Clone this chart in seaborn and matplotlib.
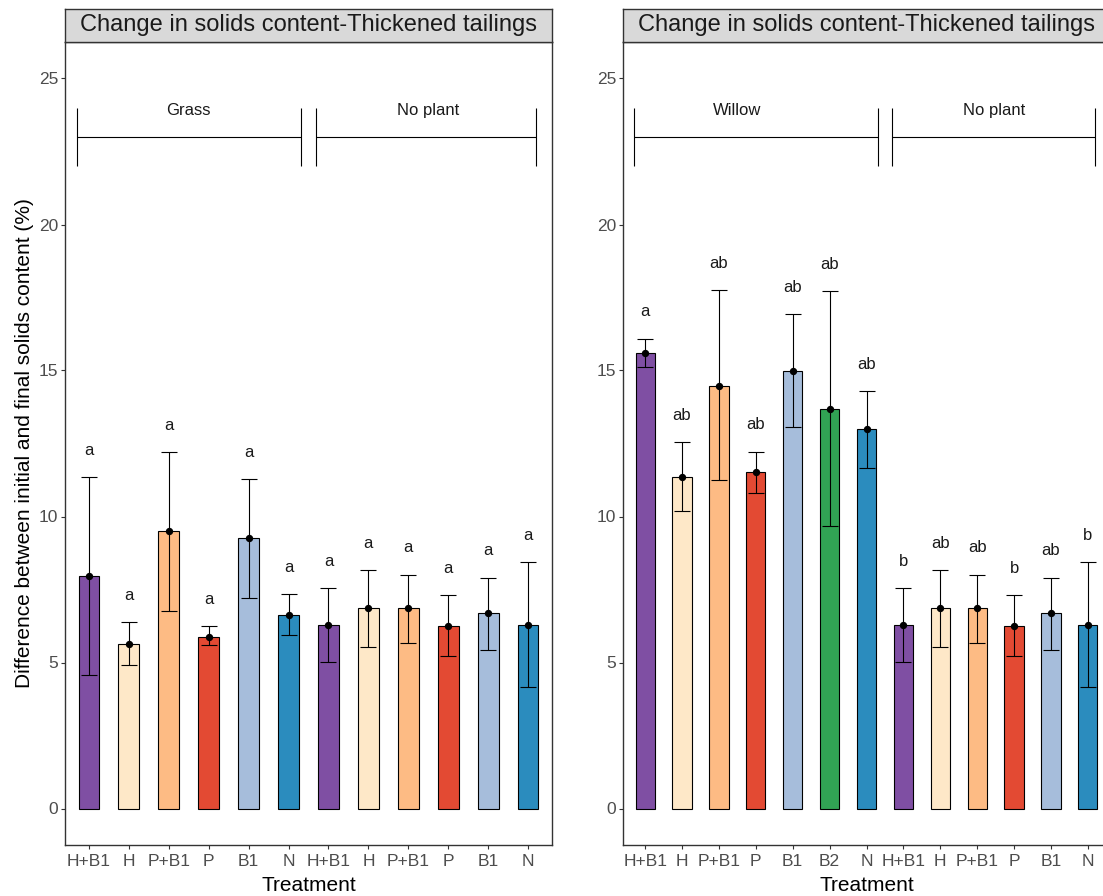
import matplotlib
matplotlib.use("Agg")
import matplotlib.pyplot as plt
import seaborn as sns
import pandas as pd
import numpy as np

# ---------------- data ----------------
strip_title = "Change in solids content-Thickened tailings"

left_labels = ["H+B1", "H", "P+B1", "P", "B1", "N", "H+B1", "H", "P+B1", "P", "B1", "N"]
left_means = [7.96, 5.62, 9.49, 5.89, 9.25, 6.62, 6.29, 6.86, 6.86, 6.25, 6.70, 6.29]
left_upper = [11.34, 6.38, 12.21, 6.26, 11.27, 7.34, 7.56, 8.16, 8.01, 7.32, 7.91, 8.43]
left_lower = [4.58, 4.90, 6.76, 5.59, 7.20, 5.93, 5.03, 5.54, 5.66, 5.22, 5.43, 4.16]
left_letters = ["a"] * 12
left_groups = ["Grass", "No plant"]

right_labels = ["H+B1", "H", "P+B1", "P", "B1", "B2", "N", "H+B1", "H", "P+B1", "P", "B1", "N"]
right_means = [15.61, 11.35, 14.48, 11.51, 14.98, 13.68, 13.00, 6.29, 6.86, 6.86, 6.25, 6.70, 6.29]
right_upper = [16.09, 12.55, 17.76, 12.22, 16.93, 17.72, 14.30, 7.56, 8.16, 8.01, 7.32, 7.91, 8.43]
right_lower = [15.13, 10.20, 11.25, 10.79, 13.05, 9.67, 11.66, 5.03, 5.54, 5.66, 5.22, 5.43, 4.16]
right_letters = ["a", "ab", "ab", "ab", "ab", "ab", "ab", "b", "ab", "ab", "b", "ab", "b"]
right_groups = ["Willow", "No plant"]

treatment_colors = {
    "H+B1": "#7F4FA3",
    "H": "#FEE8C8",
    "P+B1": "#FDBB84",
    "P": "#E34A33",
    "B1": "#A6BDDB",
    "B2": "#31A354",
    "N": "#2B8CBE",
}

y_ticks = [0, 5, 10, 15, 20, 25]

# ---------------- style ----------------
sns.set_theme(style="white")
plt.rcParams["font.family"] = ["Liberation Sans", "DejaVu Sans"]

W, H = 1103, 896
fig = plt.figure(figsize=(W / 100, H / 100), dpi=100)
fig.patch.set_facecolor("white")


def px_axes(l, t, r, b):
    return fig.add_axes([l / W, 1 - b / H, (r - l) / W, (b - t) / H])


BORDER = "#333333"
PANEL_W = 487
PANEL_TOP, PANEL_BOT = 42, 845
STRIP_TOP = 9

panels = [
    dict(labels=left_labels, means=left_means, upper=left_upper, lower=left_lower,
         letters=left_letters, groups=left_groups,
         spans=[(-0.3, 5.3, 2.5), (5.7, 11.2, 8.5)], left=65, ylabel=True),
    dict(labels=right_labels, means=right_means, upper=right_upper, lower=right_lower,
         letters=right_letters, groups=right_groups,
         spans=[(-0.3, 6.3, 2.5), (6.7, 12.2, 9.45)], left=623, ylabel=False),
]

for p in panels:
    n = len(p["labels"])
    ax = px_axes(p["left"], PANEL_TOP, p["left"] + PANEL_W, PANEL_BOT)
    slots = [str(i) for i in range(n)]
    df = pd.DataFrame({"slot": slots, "label": p["labels"], "mean": p["means"]})
    pal = {s: treatment_colors[l] for s, l in zip(slots, p["labels"])}
    sns.barplot(data=df, x="slot", y="mean", hue="slot", palette=pal, order=slots,
                hue_order=slots, width=0.52, saturation=1, edgecolor="black",
                linewidth=0.8, errorbar=None, legend=False, dodge=False, ax=ax)
    xs = np.arange(n)
    means = np.array(p["means"])
    up = np.array(p["upper"])
    lo = np.array(p["lower"])
    ax.errorbar(xs, means, yerr=[means - lo, up - means], fmt="none", ecolor="black",
                elinewidth=0.8, capsize=5.6, capthick=0.8, zorder=3)
    ax.scatter(xs, means, s=28, color="black", zorder=4, linewidths=0)
    for x, u, letter in zip(xs, up, p["letters"]):
        ax.text(x, u + 0.76, letter, ha="center", va="baseline", fontsize=12,
                color="#1A1A1A")
    # group brackets
    for (x0, x1, xt), g in zip(p["spans"], p["groups"]):
        ax.hlines(23, x0, x1, color="black", lw=0.8)
        ax.vlines([x0, x1], 22, 24, color="black", lw=0.8)
        ax.text(xt, 23.75, g, ha="center", va="baseline", fontsize=12, color="#1A1A1A")

    ax.set_xlim(-0.6, n - 0.4)
    ax.set_ylim(-1.25, 26.25)
    ax.set_yticks(y_ticks)
    ax.set_yticklabels([str(t) for t in y_ticks])
    ax.set_xticks(xs)
    ax.set_xticklabels(p["labels"])
    ax.tick_params(axis="both", bottom=True, left=True, length=2.75, width=0.8,
                   color=BORDER, pad=2.2, labelsize=12.5, labelcolor="#4D4D4D")
    ax.tick_params(axis="x", pad=3.5)
    ax.grid(False)
    ax.set_facecolor("white")
    for s in ax.spines.values():
        s.set_visible(True)
        s.set_color(BORDER)
        s.set_linewidth(1.0)
    ax.set_xlabel("Treatment", fontsize=15, color="black", labelpad=5)
    if p["ylabel"]:
        ax.set_ylabel("Difference between initial and final solids content (%)",
                      fontsize=15, color="black", labelpad=3)
    else:
        ax.set_ylabel("")

    # facet strip
    sax = px_axes(p["left"], STRIP_TOP, p["left"] + PANEL_W, PANEL_TOP)
    sax.set_facecolor("#D9D9D9")
    sax.set_xticks([])
    sax.set_yticks([])
    for s in sax.spines.values():
        s.set_visible(True)
        s.set_color(BORDER)
        s.set_linewidth(1.0)
    sax.text(0.5, 0.5, strip_title, ha="center", va="center", fontsize=17,
             color="#1A1A1A", transform=sax.transAxes)

fig.savefig("out.png", dpi=100, facecolor="white")
